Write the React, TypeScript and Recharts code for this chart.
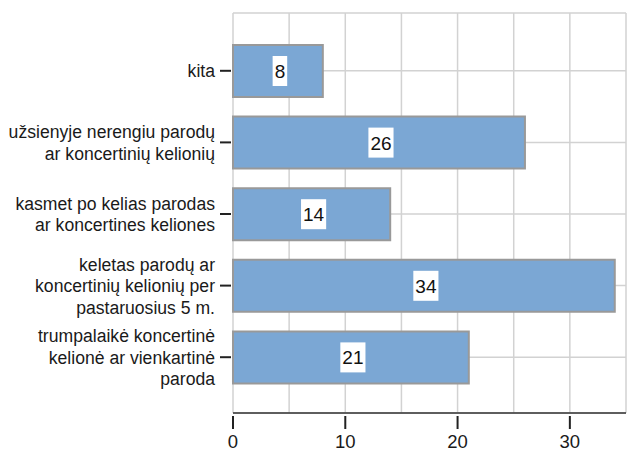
import React from 'react';
import { BarChart, Bar, XAxis, YAxis, CartesianGrid, LabelList } from 'recharts';

const categories = [
  'kita',
  'užsienyje nerengiu parodų|ar koncertinių kelionių',
  'kasmet po kelias parodas|ar koncertines keliones',
  'keletas parodų ar|koncertinių kelionių per|pastaruosius 5 m.',
  'trumpalaikė koncertinė|kelionė ar vienkartinė|paroda',
];
const values = [8, 26, 14, 34, 21];
const xTicks = [0, 5, 10, 15, 20, 25, 30, 35];
const xLabelTicks = [0, 10, 20, 30];

const data = categories.map((c, i) => ({ category: c, value: values[i] }));

const FONT = '"Liberation Sans", Arial, sans-serif';

const YTick = (props: any) => {
  const { x, y, payload } = props;
  const lines: string[] = String(payload.value).split('|');
  const n = lines.length;
  return (
    <g>
      <line x1={x - 13} x2={x - 2} y1={y} y2={y} stroke="#222" strokeWidth={2} />
      <text textAnchor="end" fontSize={17.6} fontFamily={FONT} fill="#1a1a1a">
        {lines.map((l, i) => (
          <tspan key={i} x={x - 18} y={y + 6.5 + (i - (n - 1) / 2) * 21.5}>
            {l}
          </tspan>
        ))}
      </text>
    </g>
  );
};

const XTick = (props: any) => {
  const { x, y, payload } = props;
  if (!xLabelTicks.includes(payload.value)) return <g />;
  return (
    <g>
      <line x1={x} x2={x} y1={y + 3} y2={y + 16} stroke="#222" strokeWidth={2} />
      <text x={x} y={y + 35} textAnchor="middle" fontSize={18.5} fontFamily={FONT} fill="#1a1a1a">
        {payload.value}
      </text>
    </g>
  );
};

const BarLabel = (props: any) => {
  const { x, y, width, height, value } = props;
  const cx = x + width / 2 + 2;
  const cy = y + height / 2;
  const s = String(value);
  const fs = 19;
  const w = s.length * 0.556 * fs + 4;
  return (
    <g>
      <rect x={cx - w / 2} y={cy - 15} width={w} height={30} fill="#ffffff" />
      <text x={cx} y={cy + 7} textAnchor="middle" fontSize={fs} fontFamily={FONT} fill="#111">
        {s}
      </text>
    </g>
  );
};

export default function App() {
  return (
    <div style={{ position: 'absolute', left: 0, top: 0, background: '#fff' }}>
      <BarChart
        width={627}
        height={453}
        data={data}
        layout="vertical"
        margin={{ top: 13, right: 1, bottom: 0, left: 0 }}
      >
        <CartesianGrid stroke="#d2d2d2" strokeWidth={1.5} />
        <XAxis
          type="number"
          dataKey="value"
          domain={[0, 35]}
          ticks={xTicks}
          interval={0}
          height={40}
          tickSize={0}
          tickMargin={0}
          tickLine={false}
          axisLine={{ stroke: '#333', strokeWidth: 1.5 }}
          tick={<XTick />}
        />
        <YAxis
          type="category"
          dataKey="category"
          width={233}
          interval={0}
          padding={{ top: 22, bottom: 20 }}
          tickSize={0}
          tickMargin={0}
          tickLine={false}
          axisLine={false}
          tick={<YTick />}
        />
        <Bar
          dataKey="value"
          fill="#7BA7D4"
          stroke="#999999"
          strokeWidth={2}
          barSize={52}
          isAnimationActive={false}
        >
          <LabelList dataKey="value" content={<BarLabel />} />
        </Bar>
      </BarChart>
    </div>
  );
}
